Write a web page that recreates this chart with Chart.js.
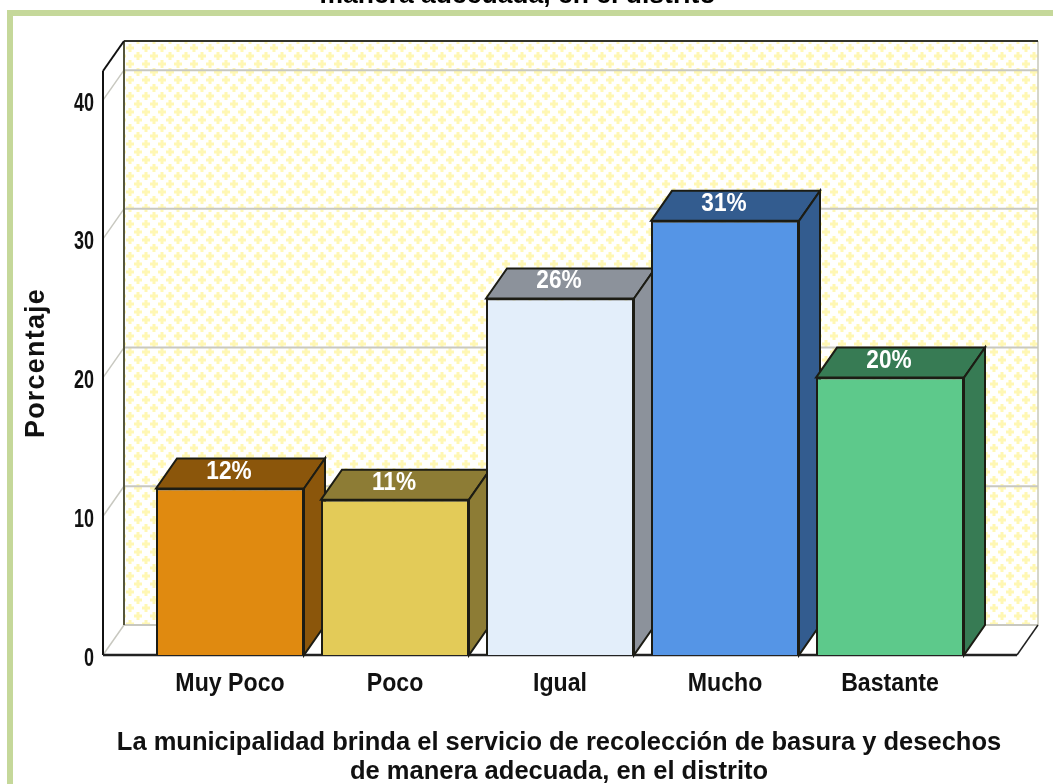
<!DOCTYPE html>
<html lang="es">
<head>
  <meta charset="UTF-8" />
  <title>Porcentaje</title>
  <script src="https://cdn.jsdelivr.net/npm/chart.js"></script>
  <style>
    html, body { margin: 0; padding: 0; background: #fff; overflow: hidden; }
    body { width: 1053px; height: 784px; position: relative; }
    #marco {
      position: absolute; left: 7px; top: 10px; width: 1100px; height: 850px;
      border: 6px solid #c5d89a; background: #fff;
    }
    #titulo {
      position: absolute; left: 0; width: 1035px; top: -21px; text-align: center;
      font: bold 26.5px "Liberation Sans", sans-serif; color: #000; z-index: 2;
    }
    canvas { position: absolute; left: 0; top: 0; }
  </style>
</head>
<body>
<div id="marco"></div>
<div id="titulo">manera adecuada, en el distrito</div>
<canvas id="grafico" width="1053" height="784"></canvas>

<script>
  const categorias = ["Muy Poco", "Poco", "Igual", "Mucho", "Bastante"];
  const porcentajes = [12.0, 11.2, 25.7, 31.3, 20.0];
  const colores = ["#e08a10", "#e3cb58", "#e3eefa", "#5595e6", "#5dc98b"];
  const coloresLado = ["#8b560b", "#8d7c35", "#8c929b", "#335c8f", "#377b54"];
  const tituloX = ["La municipalidad brinda el servicio de recolección de basura y desechos", "de manera adecuada, en el distrito"];
  const tituloY = "Porcentaje";

  const fondoX = 21, fondoY = 30;  // profundidad 3D
  const margenEje = 44.5;          // del eje al primer intervalo de categoria
  const arial = '"Liberation Sans", sans-serif';

  // trama amarilla de la pared del fondo
  function crearTrama(ctx) {
    const c = document.createElement("canvas");
    c.width = 16; c.height = 16;
    const t = c.getContext("2d");
    t.fillStyle = "#fff";
    t.fillRect(0, 0, 16, 16);
    t.fillStyle = "#fff7b4";
    [[2, 0], [18, 0], [2, 16], [18, 16], [10, 8]].forEach(p => {
      t.fillRect(p[0] - 4, p[1] - 1.5, 8, 3);
      t.fillRect(p[0] - 1.5, p[1] - 4, 3, 8);
    });
    return ctx.createPattern(c, "repeat");
  }

  function linea(ctx, x1, y1, x2, y2, color, ancho) {
    ctx.strokeStyle = color;
    ctx.lineWidth = ancho;
    ctx.beginPath();
    ctx.moveTo(x1, y1);
    ctx.lineTo(x2, y2);
    ctx.stroke();
  }

  function poligono(ctx, puntos, color) {
    ctx.fillStyle = color;
    ctx.strokeStyle = "#1c1c14";
    ctx.lineWidth = 2;
    ctx.beginPath();
    puntos.forEach((p, i) => i ? ctx.lineTo(p[0], p[1]) : ctx.moveTo(p[0], p[1]));
    ctx.closePath();
    ctx.fill();
    ctx.stroke();
  }

  // el original usa una letra estrecha: se comprime en horizontal
  function textoEstrecho(ctx, texto, x, y, escala) {
    ctx.save();
    ctx.translate(x, y);
    ctx.scale(escala, 1);
    ctx.fillText(texto, 0, 0);
    ctx.restore();
  }

  const caja3d = {
    id: "caja3d",
    beforeDatasetsDraw(chart) {
      const ctx = chart.ctx, y = chart.scales.y, a = chart.chartArea;
      const izq = a.left - margenEje, der = a.right + margenEje;
      const base = y.getPixelForValue(0), tope = y.top;

      ctx.save();
      ctx.fillStyle = crearTrama(ctx);
      ctx.fillRect(izq + fondoX, tope - fondoY, der - izq, base - tope);

      // rejilla en la pared del fondo y en la pared izquierda
      y.ticks.forEach(t => {
        const py = y.getPixelForValue(t.value);
        linea(ctx, izq, py, izq + fondoX, py - fondoY, "#c8c8c0", 1.5);
        linea(ctx, izq + fondoX, py - fondoY, der + fondoX, py - fondoY, "#c8c8c0", 2);
      });

      linea(ctx, der + fondoX, tope - fondoY, der + fondoX, base - fondoY, "#c8c8b8", 1.5);
      linea(ctx, izq + fondoX, tope - fondoY, izq + fondoX, base - fondoY, "#55553c", 2);
      linea(ctx, izq + fondoX, tope - fondoY, der + fondoX, tope - fondoY, "#33332a", 2);
      linea(ctx, izq, tope, izq + fondoX, tope - fondoY, "#111", 2);
      linea(ctx, izq, tope, izq, base, "#111", 2);
      linea(ctx, der, base, der + fondoX, base - fondoY, "#222", 1.5);
      linea(ctx, izq, base, der, base, "#222", 2.5);

      // caras superior y lateral de cada barra
      chart.getDatasetMeta(0).data.forEach((b, i) => {
        const l = b.x - b.width / 2, r = b.x + b.width / 2;
        poligono(ctx, [[l, b.y], [l + fondoX, b.y - fondoY], [r + fondoX, b.y - fondoY], [r, b.y]], coloresLado[i]);
        poligono(ctx, [[r, b.y], [r + fondoX, b.y - fondoY], [r + fondoX, b.base - fondoY], [r, b.base]], coloresLado[i]);
      });
      ctx.restore();
    },
    afterDatasetsDraw(chart) {
      const ctx = chart.ctx, xs = chart.scales.x, ys = chart.scales.y, a = chart.chartArea;
      const izq = a.left - margenEje;

      ctx.save();
      // etiquetas de porcentaje
      ctx.fillStyle = "#fff";
      ctx.font = "bold 26px " + arial;
      ctx.textAlign = "center";
      ctx.textBaseline = "alphabetic";
      chart.getDatasetMeta(0).data.forEach((b, i) => {
        textoEstrecho(ctx, Math.round(porcentajes[i]) + "%", b.x - 1, b.y - 10, 0.87);
      });

      // eje x
      ctx.fillStyle = "#111";
      categorias.forEach((c, i) => {
        textoEstrecho(ctx, c, xs.getPixelForValue(i), a.bottom + 36, 0.89);
      });

      // eje y
      ctx.font = "bold 25px " + arial;
      ctx.textAlign = "right";
      ys.ticks.forEach(t => {
        textoEstrecho(ctx, String(t.value), izq - 9, ys.getPixelForValue(t.value) + 10.5, 0.72);
      });

      // titulos de los ejes
      ctx.textAlign = "center";
      ctx.font = "bold 25.5px " + arial;
      tituloX.forEach((linea, i) => {
        ctx.fillText(linea, (a.left + a.right) / 2 - 1, a.bottom + 95 + i * 29);
      });

      ctx.translate(44, (a.top + a.bottom) / 2);
      ctx.rotate(-Math.PI / 2);
      ctx.font = "bold 27px " + arial;
      ctx.letterSpacing = "1.2px";
      ctx.fillText(tituloY, 0, 0);
      ctx.restore();
    }
  };

  new Chart(document.getElementById("grafico"), {
    type: "bar",
    data: {
      labels: categorias,
      datasets: [{
        data: porcentajes,
        backgroundColor: colores,
        borderColor: "#1c1c14",
        borderWidth: 2,
        barPercentage: 148 / 165,
        categoryPercentage: 1
      }]
    },
    options: {
      responsive: false,
      animation: false,
      layout: { padding: { left: 0, right: 80.5, top: 71, bottom: 0 } },
      plugins: { legend: { display: false }, tooltip: { enabled: false }, title: { display: false } },
      scales: {
        x: {
          grid: { display: false },
          border: { display: false },
          ticks: { display: false },
          afterFit(s) { s.height = 129; }
        },
        y: {
          min: 0,
          max: 42.1,
          grid: { display: false },
          border: { display: false },
          ticks: { display: false, stepSize: 10 },
          afterBuildTicks(s) { s.ticks = s.ticks.filter(t => t.value % 10 === 0); },
          afterFit(s) { s.width = 147.5; }
        }
      }
    },
    plugins: [caja3d]
  });
</script>
</body>
</html>
